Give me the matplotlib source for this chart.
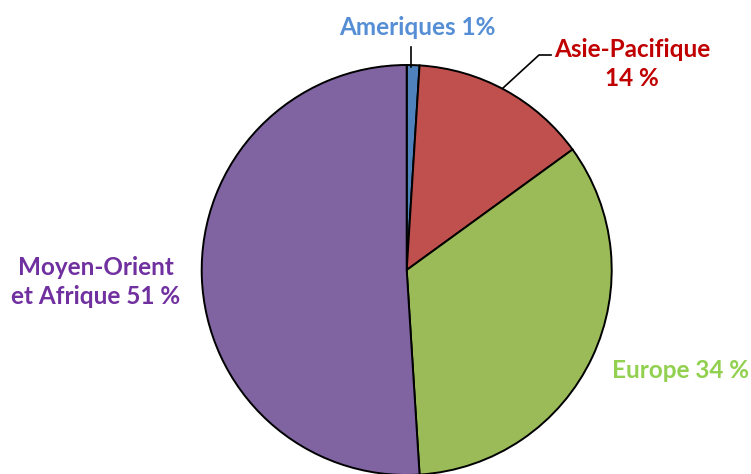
import matplotlib
matplotlib.use("Agg")
import matplotlib.pyplot as plt

labels = ["Ameriques", "Asie-Pacifique", "Europe", "Moyen-Orient et Afrique"]
values = [1, 14, 34, 51]
colors = ["#4F81BD", "#C0504D", "#9BBB59", "#8064A2"]
label_texts = ["Ameriques 1%", "Asie-Pacifique\n14 %", "Europe 34 %", "Moyen-Orient\net Afrique 51 %"]
label_colors = ["#558ED5", "#C00000", "#92D050", "#7030A0"]

W, H = 751, 474
cx, cy, R = 406.7, 270.0, 205.0

fig = plt.figure(figsize=(W / 100, H / 100), dpi=100)
ax = fig.add_axes([0, 0, 1, 1])
ax.axis("off")

ax.pie(values, colors=colors, startangle=90, counterclock=False, radius=1,
       wedgeprops=dict(edgecolor="black", linewidth=1.4))
ax.set_aspect("auto")
ax.set_xlim(-cx / R, (W - cx) / R)
ax.set_ylim(-(H - cy) / R, cy / R)

def px(x, y):
    return ((x - cx) / R, (cy - y) / R)

fp = dict(family=["Lato", "DejaVu Sans"], weight="bold", fontsize=17.5)

# Ameriques
ax.text(*px(417, 27), label_texts[0], color=label_colors[0], ha="center", va="center", **fp)
ax.plot(*zip(px(410.5, 47), px(410.5, 67)), color="black", lw=1.2)
# Asie-Pacifique
ax.text(*px(632, 64), label_texts[1], color=label_colors[1], ha="center", va="center",
        linespacing=1.3, **fp)
ax.plot(*zip(px(503, 88), px(539, 55), px(551, 55)), color="black", lw=1.2)
# Europe
ax.text(*px(612, 371), label_texts[2], color=label_colors[2], ha="left", va="center", **fp)
# Moyen-Orient
ax.text(*px(96, 282), label_texts[3], color=label_colors[3], ha="center", va="center",
        linespacing=1.3, **fp)

fig.savefig("out.png", dpi=100)
